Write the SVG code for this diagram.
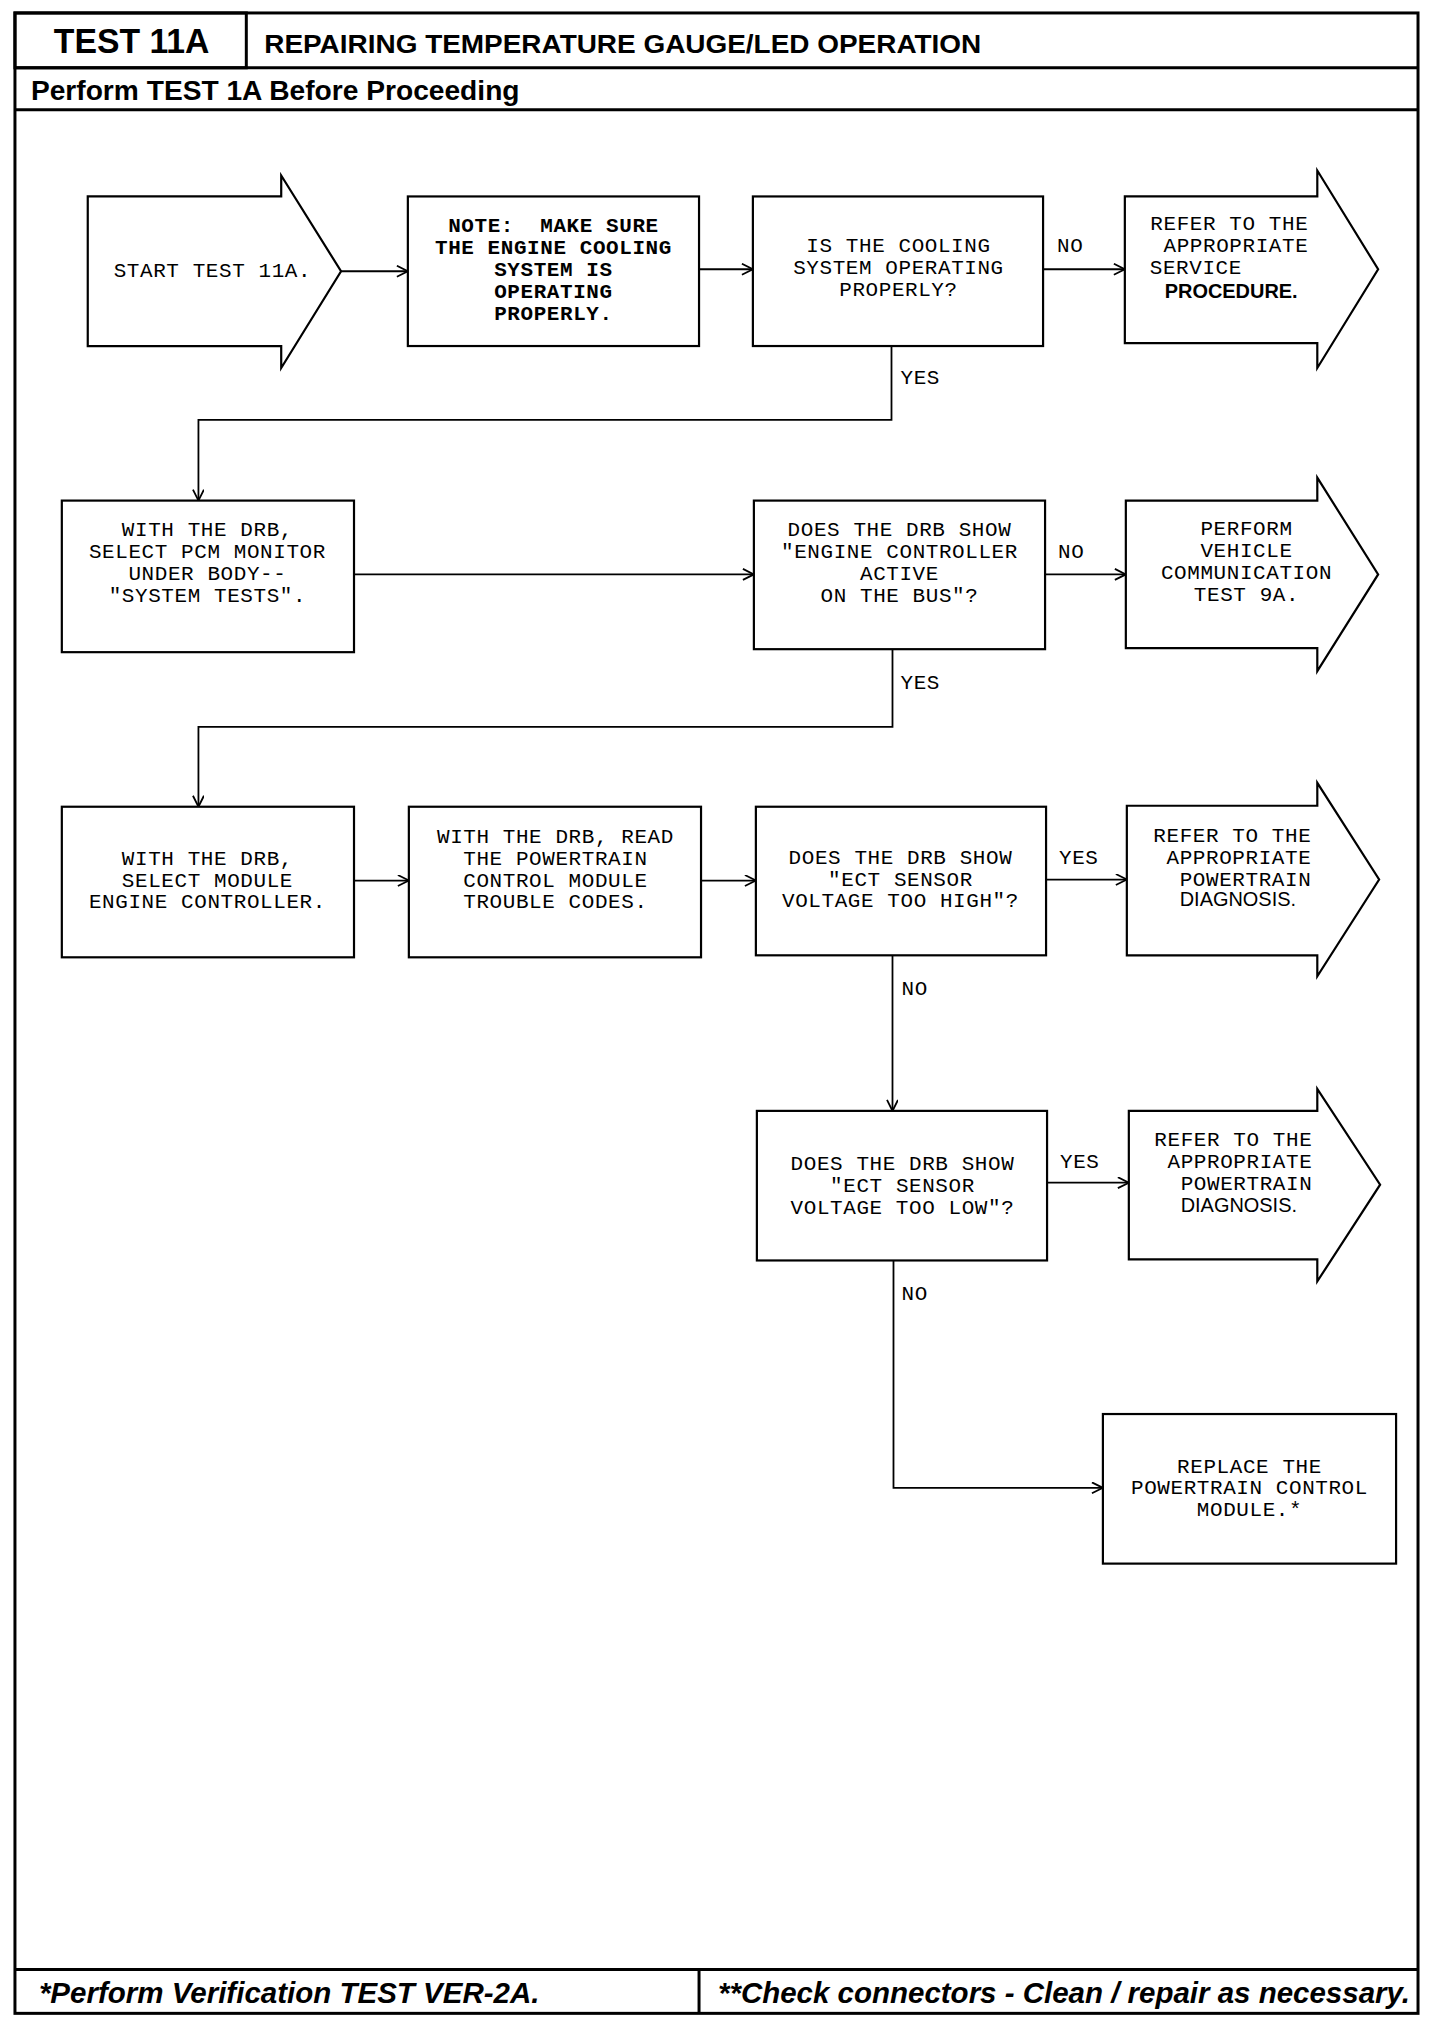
<svg xmlns="http://www.w3.org/2000/svg" width="1440" height="2022" viewBox="0 0 1440 2022">
<defs>
<marker id="arr" markerUnits="userSpaceOnUse" markerWidth="14" markerHeight="14" refX="12" refY="6" orient="auto">
<path d="M1,0.5 L12,6 L1,11.5" fill="none" stroke="#000" stroke-width="1.8"/>
</marker>
<style>
.frame{fill:none;stroke:#000;stroke-width:3}
.box{fill:#fff;stroke:#000;stroke-width:2.2}
.conn{fill:none;stroke:#000;stroke-width:1.8;marker-end:url(#arr)}
.t{font-family:"Liberation Mono","DejaVu Sans Mono",monospace;font-size:21px;letter-spacing:0.6px;fill:#000}
.tb{font-family:"Liberation Mono","DejaVu Sans Mono",monospace;font-size:21px;letter-spacing:0.6px;font-weight:bold;fill:#000}
.m{text-anchor:middle}
.e{text-anchor:end}
.s{font-family:"Liberation Sans",Arial,sans-serif;font-size:20px;fill:#000}
.h{font-family:"Liberation Sans",Arial,sans-serif;font-weight:bold;fill:#000}
.f{font-family:"Liberation Sans",Arial,sans-serif;font-weight:bold;font-style:italic;font-size:30px;fill:#000}
</style>
</defs>
<rect width="1440" height="2022" fill="#fff"/>
<g transform="scale(0.9972)">
<g id="frame">
<rect class="frame" x="15" y="13" width="1407" height="2006"/>
<rect x="15" y="13" width="232" height="55" fill="none" stroke="#000" stroke-width="3"/>
<line class="frame" x1="15" y1="68" x2="1422" y2="68" stroke-width="2"/>
<line class="frame" x1="15" y1="110" x2="1422" y2="110"/>
<line class="frame" x1="15" y1="1975" x2="1422" y2="1975"/>
<line class="frame" x1="701" y1="1975" x2="701" y2="2019" stroke-width="2"/>
<text class="h" x="54" y="53" font-size="36" textLength="156" lengthAdjust="spacingAndGlyphs">TEST 11A</text>
<text class="h" x="265" y="53" font-size="25" textLength="719" lengthAdjust="spacingAndGlyphs">REPAIRING TEMPERATURE GAUGE/LED OPERATION</text>
<text class="h" x="31" y="100" font-size="28" textLength="490" lengthAdjust="spacingAndGlyphs">Perform TEST 1A Before Proceeding</text>
<text class="f" x="39" y="2009" textLength="502" lengthAdjust="spacingAndGlyphs">*Perform Verification TEST VER-2A.</text>
<text class="f" x="720" y="2009" textLength="694" lengthAdjust="spacingAndGlyphs">**Check connectors - Clean / repair as necessary.</text>
</g>
<g id="connectors">
<line class="conn" x1="342" y1="272" x2="409" y2="272"/>
<line class="conn" x1="701" y1="270" x2="755" y2="270"/>
<line class="conn" x1="1046" y1="270" x2="1128" y2="270"/>
<text class="t" x="1060" y="253">NO</text>
<path class="conn" d="M894,347 V421 H199 V502"/>
<text class="t" x="903" y="385">YES</text>
<line class="conn" x1="355" y1="576" x2="756" y2="576"/>
<line class="conn" x1="1048" y1="576" x2="1129" y2="576"/>
<text class="t" x="1061" y="560">NO</text>
<path class="conn" d="M895,651 V729 H199 V809"/>
<text class="t" x="903" y="691">YES</text>
<line class="conn" x1="355" y1="883" x2="410" y2="883"/>
<line class="conn" x1="703" y1="883" x2="758" y2="883"/>
<line class="conn" x1="1049" y1="882" x2="1130" y2="882"/>
<text class="t" x="1062" y="866">YES</text>
<path class="conn" d="M895,958 V1114"/>
<text class="t" x="904" y="998">NO</text>
<line class="conn" x1="1050" y1="1186" x2="1132" y2="1186"/>
<text class="t" x="1063" y="1171">YES</text>
<path class="conn" d="M896,1264 V1492 H1106"/>
<text class="t" x="904" y="1304">NO</text>
</g>
<g id="n-start">
<path class="box" d="M88,197 H282 V176 L342,272 L282,369 V347 H88 Z"/>
<text class="t" x="114" y="278">START TEST 11A.</text>
</g>
<g id="n-note">
<rect class="box" x="409" y="197" width="292" height="150"/>
<text class="tb m" x="555" y="233" xml:space="preserve">NOTE:  MAKE SURE</text>
<text class="tb m" x="555" y="255">THE ENGINE COOLING</text>
<text class="tb m" x="555" y="277">SYSTEM IS</text>
<text class="tb m" x="555" y="299">OPERATING</text>
<text class="tb m" x="555" y="321">PROPERLY.</text>
</g>
<g id="n-cooling">
<rect class="box" x="755" y="197" width="291" height="150"/>
<text class="t m" x="901" y="253">IS THE COOLING</text>
<text class="t m" x="901" y="275">SYSTEM OPERATING</text>
<text class="t m" x="901" y="297">PROPERLY?</text>
</g>
<g id="n-refer1">
<path class="box" d="M1128,197 H1321 V171 L1382,270 L1321,369 V344 H1128 Z"/>
<text class="t e" x="1312" y="231">REFER TO THE</text>
<text class="t e" x="1312" y="253">APPROPRIATE</text>
<text class="t" x="1153" y="275">SERVICE</text>
<text class="s" x="1168" y="299" font-weight="bold">PROCEDURE.</text>
</g>
<g id="n-pcm">
<rect class="box" x="62" y="502" width="293" height="152"/>
<text class="t m" x="208" y="538">WITH THE DRB,</text>
<text class="t m" x="208" y="560">SELECT PCM MONITOR</text>
<text class="t m" x="208" y="582">UNDER BODY--</text>
<text class="t m" x="208" y="604">"SYSTEM TESTS".</text>
</g>
<g id="n-engine-active">
<rect class="box" x="756" y="502" width="292" height="149"/>
<text class="t m" x="902" y="538">DOES THE DRB SHOW</text>
<text class="t m" x="902" y="560">"ENGINE CONTROLLER</text>
<text class="t m" x="902" y="582">ACTIVE</text>
<text class="t m" x="902" y="604">ON THE BUS"?</text>
</g>
<g id="n-perform">
<path class="box" d="M1129,502 H1321 V479 L1382,576 L1321,673 V650 H1129 Z"/>
<text class="t m" x="1250" y="537">PERFORM</text>
<text class="t m" x="1250" y="559">VEHICLE</text>
<text class="t m" x="1250" y="581">COMMUNICATION</text>
<text class="t m" x="1250" y="603">TEST 9A.</text>
</g>
<g id="n-select-module">
<rect class="box" x="62" y="809" width="293" height="151"/>
<text class="t m" x="208" y="867">WITH THE DRB,</text>
<text class="t m" x="208" y="889">SELECT MODULE</text>
<text class="t m" x="208" y="911">ENGINE CONTROLLER.</text>
</g>
<g id="n-read-codes">
<rect class="box" x="410" y="809" width="293" height="151"/>
<text class="t m" x="557" y="845">WITH THE DRB, READ</text>
<text class="t m" x="557" y="867">THE POWERTRAIN</text>
<text class="t m" x="557" y="889">CONTROL MODULE</text>
<text class="t m" x="557" y="911">TROUBLE CODES.</text>
</g>
<g id="n-ect-high">
<rect class="box" x="758" y="809" width="291" height="149"/>
<text class="t m" x="903" y="866">DOES THE DRB SHOW</text>
<text class="t m" x="903" y="888">"ECT SENSOR</text>
<text class="t m" x="903" y="910">VOLTAGE TOO HIGH"?</text>
</g>
<g id="n-refer2">
<path class="box" d="M1130,808 H1321 V785 L1383,882 L1321,979 V958 H1130 Z"/>
<text class="t e" x="1315" y="844">REFER TO THE</text>
<text class="t e" x="1315" y="866">APPROPRIATE</text>
<text class="t e" x="1315" y="888">POWERTRAIN</text>
<text class="s" x="1183" y="909">DIAGNOSIS.</text>
</g>
<g id="n-ect-low">
<rect class="box" x="759" y="1114" width="291" height="150"/>
<text class="t m" x="905" y="1173">DOES THE DRB SHOW</text>
<text class="t m" x="905" y="1195">"ECT SENSOR</text>
<text class="t m" x="905" y="1217">VOLTAGE TOO LOW"?</text>
</g>
<g id="n-refer3">
<path class="box" d="M1132,1114 H1321 V1092 L1384,1188 L1321,1285 V1263 H1132 Z"/>
<text class="t e" x="1316" y="1149">REFER TO THE</text>
<text class="t e" x="1316" y="1171">APPROPRIATE</text>
<text class="t e" x="1316" y="1193">POWERTRAIN</text>
<text class="s" x="1184" y="1215">DIAGNOSIS.</text>
</g>
<g id="n-replace">
<rect class="box" x="1106" y="1418" width="294" height="150"/>
<text class="t m" x="1253" y="1477">REPLACE THE</text>
<text class="t m" x="1253" y="1498">POWERTRAIN CONTROL</text>
<text class="t m" x="1253" y="1520">MODULE.*</text>
</g>
</g>
</svg>
